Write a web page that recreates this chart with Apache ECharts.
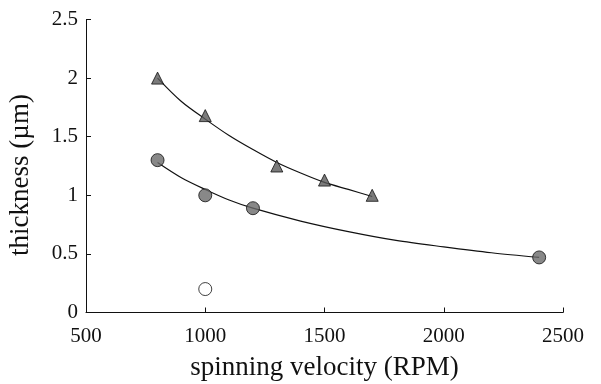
<!DOCTYPE html>
<html>
<head>
<meta charset="utf-8">
<script src="https://cdn.jsdelivr.net/npm/echarts@6/dist/echarts.min.js"></script>
<style>
html,body{margin:0;padding:0;background:#fff;}
#chart{width:601px;height:384px;}
</style>
</head>
<body>
<div id="chart"></div>
<script>
// Measured points
var triangleData = [[800, 2.0], [1000, 1.68], [1300, 1.25], [1500, 1.13], [1700, 1.0]];
var circleData = [[800, 1.3], [1000, 1.0], [1200, 0.89], [2400, 0.47]];
var openCircleData = [[1000, 0.2]];
// Fitted curves
var triangleCurve = [[800, 2.0], [900, 1.80], [1000, 1.65], [1100, 1.51], [1200, 1.39], [1300, 1.28], [1400, 1.19], [1500, 1.11], [1600, 1.05], [1700, 0.99]];
var circleCurve = [[800, 1.28], [900, 1.15], [1000, 1.05], [1100, 0.96], [1200, 0.89], [1400, 0.78], [1600, 0.69], [1800, 0.615], [2000, 0.56], [2200, 0.51], [2400, 0.47]];
var xTitle = 'spinning velocity (RPM)';
var yTitle = 'thickness (\u00b5m)';

var font = 'Liberation Serif';
var chart = echarts.init(document.getElementById('chart'));
chart.setOption({
  animation: false,
  backgroundColor: '#fff',
  grid: {left: 86, right: 38, top: 19.5, bottom: 71.5, containLabel: false, outerBoundsMode: 'none'},
  xAxis: {
    type: 'value', min: 500, max: 2500, interval: 500,
    name: xTitle, nameLocation: 'middle', nameGap: 42,
    nameTextStyle: {fontFamily: font, fontSize: 27, color: '#111'},
    axisLine: {show: true, onZero: false, lineStyle: {color: '#111', width: 1}},
    axisTick: {show: true, inside: true, length: 5, lineStyle: {color: '#111'}},
    axisLabel: {fontFamily: font, fontSize: 21, color: '#111', margin: 13,
      formatter: function (v) { return String(v); }},
    splitLine: {show: false}
  },
  yAxis: {
    type: 'value', min: 0, max: 2.5, interval: 0.5,
    name: yTitle, nameLocation: 'middle', nameGap: 52, nameRotate: 90,
    nameTextStyle: {fontFamily: font, fontSize: 27, color: '#111', padding: [0, 18, 0, 0]},
    axisLine: {show: true, onZero: false, lineStyle: {color: '#111', width: 1}},
    axisTick: {show: true, inside: true, length: 5, lineStyle: {color: '#111'}},
    axisLabel: {fontFamily: font, fontSize: 21, color: '#111', margin: 8,
      formatter: function (v) { return String(v); }},
    splitLine: {show: false}
  },
  series: [
    {type: 'line', data: triangleCurve, smooth: 0.3, showSymbol: false, lineStyle: {color: '#111', width: 1.2}, z: 1},
    {type: 'line', data: circleCurve, smooth: 0.3, showSymbol: false, lineStyle: {color: '#111', width: 1.2}, z: 1},
    {type: 'scatter', data: triangleData, symbol: 'triangle', symbolSize: 12,
     itemStyle: {color: '#5a5a5a', borderColor: '#111', borderWidth: 1}, z: 3},
    {type: 'scatter', data: circleData, symbol: 'circle', symbolSize: 13,
     itemStyle: {color: '#6a6a6a', borderColor: '#111', borderWidth: 1}, z: 3},
    {type: 'scatter', data: openCircleData, symbol: 'circle', symbolSize: 13,
     itemStyle: {color: '#fff', borderColor: '#111', borderWidth: 1}, z: 3}
  ]
});
</script>
</body>
</html>
